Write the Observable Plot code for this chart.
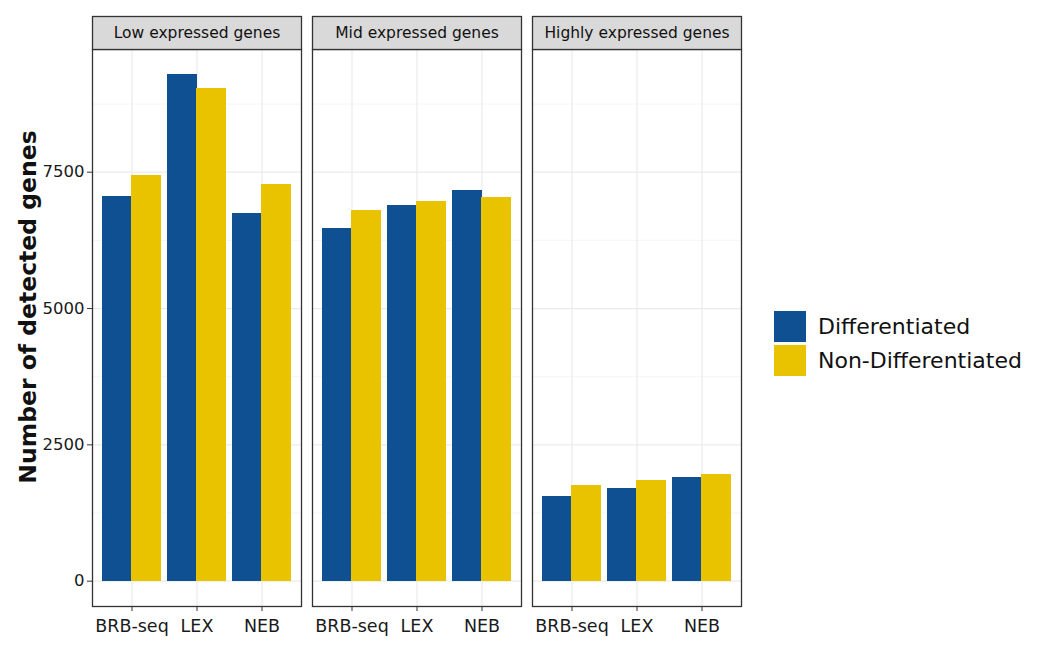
<!DOCTYPE html>
<html><head><meta charset="utf-8">
<script src="https://cdn.jsdelivr.net/npm/d3@7"></script>
<script src="https://cdn.jsdelivr.net/npm/@observablehq/plot@0.6"></script>
<style>
body{margin:0;background:#fff;font-family:"DejaVu Sans",sans-serif}
#wrap{position:relative;width:1043px;height:647px}
#legend{position:absolute;left:774px;top:311px;font-size:22px;color:#111}
.item{display:flex;align-items:center;height:31px;margin-bottom:3px}
.sw{width:32px;height:31px;margin-right:12px;flex:none}
</style></head><body><div id="wrap"><div id="legend"></div></div>
<script>
const panels = ["Low expressed genes", "Mid expressed genes", "Highly expressed genes"];
const methods = ["BRB-seq", "LEX", "NEB"];
const groups = ["Differentiated", "Non-Differentiated"];
const differentiated    = [7057, 9286, 6740,  6465, 6881, 7161,  1551, 1697, 1905];
const nonDifferentiated = [7441, 9029, 7271,  6795, 6960, 7033,  1758, 1850, 1960];
const yMajor = [0, 2500, 5000, 7500];
const yMinor = [1250, 3750, 6250, 8750];
const colors = ["#0f5092", "#e9c200"];

const data = [];
panels.forEach((p, i) => methods.forEach((m, j) => {
  data.push({panel: p, method: m, group: groups[0], value: differentiated[i * 3 + j]});
  data.push({panel: p, method: m, group: groups[1], value: nonDifferentiated[i * 3 + j]});
}));

const W = 1043, H = 647, mL = 92, mR = 302, mT = 49, mB = 41;
const fxPadInner = 0.05;
const facetW = (W - mL - mR) / (3 - fxPadInner) * (1 - fxPadInner);
const xPadInner = 0.1, xPadOuter = 0.15;
const bw = facetW / (methods.length - xPadInner + 2 * xPadOuter) * (1 - xPadInner);
const half = bw / 2;
const plotH = H - mT - mB;
const maxV = d3.max(data, d => d.value);

const chart = Plot.plot({
  width: W, height: H,
  marginLeft: mL, marginRight: mR, marginTop: mT, marginBottom: mB,
  style: {fontFamily: '"DejaVu Sans", sans-serif', fontSize: "16px", color: "#1a1a1a", background: "white"},
  fx: {domain: panels, axis: null, paddingInner: fxPadInner, paddingOuter: 0},
  x: {domain: methods, paddingInner: xPadInner, paddingOuter: xPadOuter, label: null},
  y: {domain: [-0.05 * maxV, 1.05 * maxV], label: null},
  color: {domain: groups, range: colors},
  marks: [
    Plot.gridY(yMinor, {stroke: "#f0f0f0", strokeOpacity: 1, strokeWidth: 0.7}),
    Plot.gridY(yMajor, {stroke: "#ebebeb", strokeOpacity: 1, strokeWidth: 1.2}),
    Plot.gridX({stroke: "#ebebeb", strokeOpacity: 1, strokeWidth: 1.2}),
    Plot.barY(data.filter(d => d.group === groups[0]), {fx: "panel", x: "method", y: "value", fill: "group", insetRight: half, shapeRendering: "crispEdges"}),
    Plot.barY(data.filter(d => d.group === groups[1]), {fx: "panel", x: "method", y: "value", fill: "group", insetLeft: half, shapeRendering: "crispEdges"}),
    Plot.frame({stroke: "#333", strokeWidth: 1.3}),
    Plot.frame({fill: "#d9d9d9", stroke: "#333", strokeWidth: 1.3, insetTop: -33, insetBottom: plotH}),
    Plot.text(panels, {fx: d => d, text: d => d, frameAnchor: "top", lineAnchor: "middle", dy: -16.5, fontSize: 15.5, fill: "#111"}),
    Plot.axisY(yMajor, {tickSize: 5, tickPadding: 3, fontSize: 16.5, label: null, stroke: "#333", tickFormat: d3.format("d")}),
    Plot.axisX({tickSize: 5, tickPadding: 8, fontSize: 17.5, label: null, stroke: "#333"})
  ]
});

const svg = d3.select(chart);
svg.append("text")
  .attr("transform", "translate(29,307) rotate(-90)")
  .attr("text-anchor", "middle")
  .attr("dominant-baseline", "middle")
  .attr("font-size", 23.5)
  .attr("font-weight", "bold")
  .attr("fill", "#111")
  .text("Number of detected genes");

document.getElementById("wrap").prepend(chart);

const leg = d3.select("#legend");
groups.forEach((g, i) => {
  const it = leg.append("div").attr("class", "item");
  it.append("div").attr("class", "sw").style("background", colors[i]);
  it.append("span").text(g);
});
</script>
</body></html>
